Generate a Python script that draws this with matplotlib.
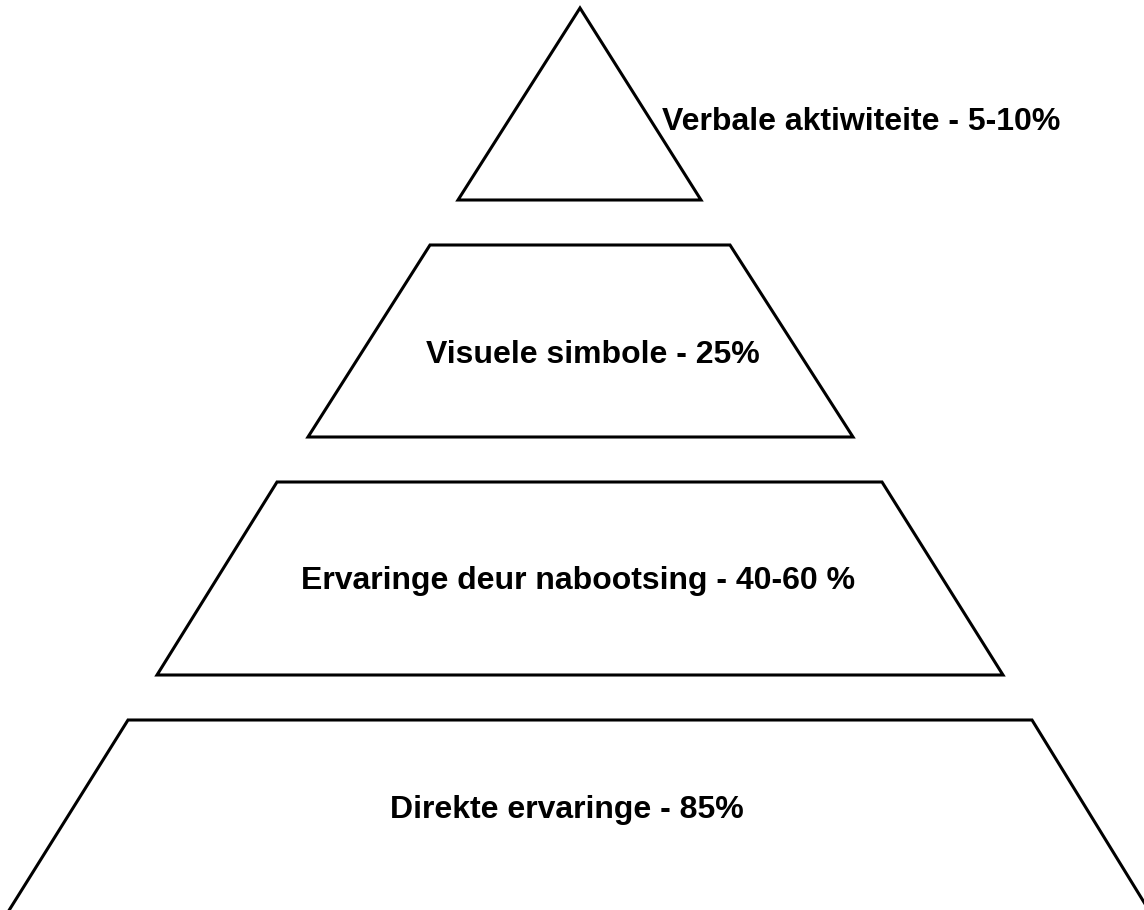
import matplotlib.pyplot as plt
from matplotlib.patches import Polygon

# pyramid levels, top to bottom (pixel units, y grows downward)
labels = ['Verbale aktiwiteite - 5-10%', 'Visuele simbole - 25%',
          'Ervaringe deur nabootsing - 40-60 %', 'Direkte ervaringe - 85%']
top_left = [580, 430, 277, 128]
top_right = [580, 730, 882, 1032]
bot_left = [458, 308, 157, 8]
bot_right = [701, 853, 1003, 1150]
top_y = [8, 245, 482, 720]
bot_y = [200, 437, 675, 912]
label_x = [861, 593, 578, 567]
label_y = [130, 363, 589, 818]   # baselines

plt.rcParams['font.family'] = ['Liberation Sans', 'DejaVu Sans']

fig = plt.figure(figsize=(11.44, 9.10), dpi=100)
ax = fig.add_axes([0, 0, 1, 1])
ax.set_xlim(0, 1144)
ax.set_ylim(910, 0)
ax.axis('off')

for i in range(len(labels)):
    pts = [(top_left[i], top_y[i]), (top_right[i], top_y[i]),
           (bot_right[i], bot_y[i]), (bot_left[i], bot_y[i])]
    ax.add_patch(Polygon(pts, closed=True, facecolor='white',
                         edgecolor='black', linewidth=2.2, joinstyle='miter'))
    ax.text(label_x[i], label_y[i], labels[i], ha='center', va='baseline',
            fontsize=23, fontweight='bold', color='black')

fig.savefig('out.png', dpi=100, facecolor='white')
